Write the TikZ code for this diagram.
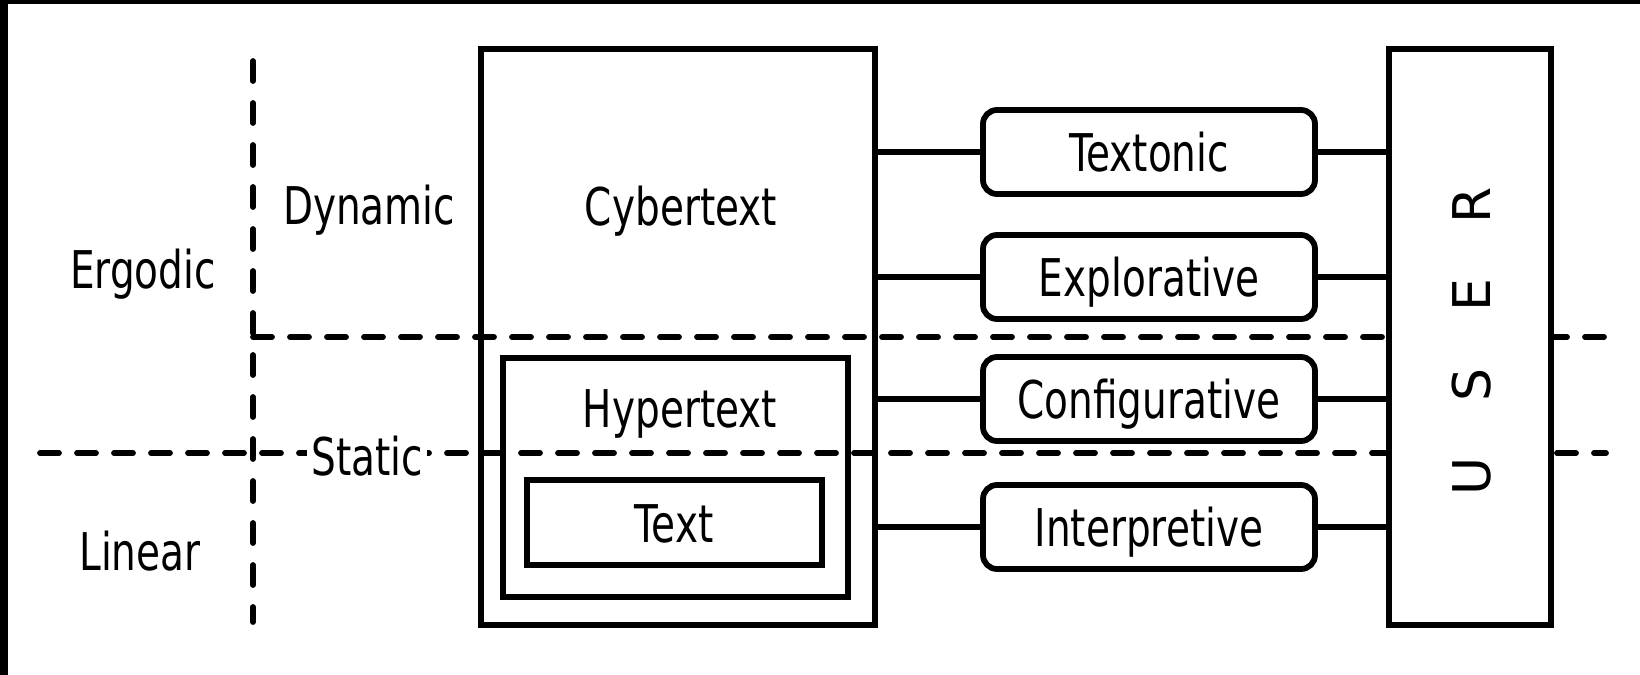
\documentclass[tikz,border=0pt]{standalone}
\usepackage{fontspec}
\setmainfont{DejaVu Sans}[FakeStretch=0.75]
\newfontfamily\userfont{DejaVu Sans}

\tikzset{
  frame/.style={draw, line width=2.9pt, inner sep=0pt},
  modebox/.style={draw, line width=2.9pt, rounded corners=7pt, fill=white,
    minimum width=166pt, minimum height=42pt, inner sep=0pt,
    text height=19pt, text depth=0pt, font=\fontsize{26}{31}\selectfont},
  wire/.style={line width=2.9pt},
  zoneh/.style={line width=2.9pt, line cap=round, dash pattern=on 9.5pt off 9pt},
  zonev/.style={line width=2.9pt, line cap=round, dash pattern=on 10pt off 11pt},
  lbl/.style={anchor=base, inner sep=0.75pt, font=\fontsize{26}{31}\selectfont}
}

\begin{document}
\begin{tikzpicture}[x=0.5pt,y=0.5pt,yscale=-1,xscale=1]
\useasboundingbox (0,0) rectangle (1640,675);
\fill[white] (0,0) rectangle (1640,675);
%Shape: scan edges
\fill[black] (0,0) rectangle (8,675);
\fill[black] (0,0) rectangle (1640,4);

%Shape: Rectangle (nested texts)
\node[frame, minimum width=197pt, minimum height=288pt] (cyber) at (678,337) {};
\node[frame, minimum width=172.5pt, minimum height=119.5pt] (hyper) at (675.5,477.5) {};
\node[frame, minimum width=147.5pt, minimum height=42.5pt] (plain) at (674.5,522.5) {};

%Shape: Rounded Rect (user functions)
\node[modebox] (textonic) at (1149,152) {Textonic};
\node[modebox] (explorative) at (1149,277) {Explorative};
\node[modebox] (configurative) at (1149,399) {Configurative};
\node[modebox] (interpretive) at (1149,527) {Interpretive};

%Shape: Rectangle (user)
\node[frame, minimum width=81pt, minimum height=288pt] (user) at (1470,337) {};

%Straight Lines
\foreach \m in {textonic,explorative,configurative,interpretive}{
  \draw[wire] (\m.west) -- (\m.west -| cyber.east);
  \draw[wire] (\m.east) -- (\m.east -| user.west);
}

%Straight Lines (dashed borders)
\coordinate (vtop) at (253,61);
\coordinate (vbot) at (253,622);
\coordinate (ergtop) at (253,337);
\coordinate (ergend) at (1606,337);
\coordinate (linbeg) at (40,453);
\coordinate (linend) at (1606,453);
\draw[zonev] (vtop) -- (vbot);
\draw[zoneh] (ergtop) -- (ergend);
\draw[zoneh] (linbeg) -- (linend);

% user box over the dashes
\node[frame, fill=white, minimum width=81pt, minimum height=288pt] at (user.center) {};
% Text Node
\node[anchor=center, rotate=90, inner sep=0.75pt, font=\userfont\fontsize{26}{31}\selectfont] (userlbl) at (1472,341) {U\hspace{28pt}S\hspace{28pt}E\hspace{28pt}R};

% Text Node
\node[lbl] (ergodic) at (143,288) {Ergodic};
% Text Node
\node[lbl] (linear) at (140,570) {Linear};
% Text Node
\node[lbl] (dynamic) at (369,224) {Dynamic};
% Text Node
\node[lbl, fill=white, inner sep=2pt] (static) at (367,475) {Static};
% Text Node
\node[lbl] (cyberlbl) at (681,225) {Cybertext};
% Text Node
\node[lbl] (hyperlbl) at (680,427) {Hypertext};
% Text Node
\node[lbl] (plainlbl) at (674,542) {Text};
\end{tikzpicture}
\end{document}
